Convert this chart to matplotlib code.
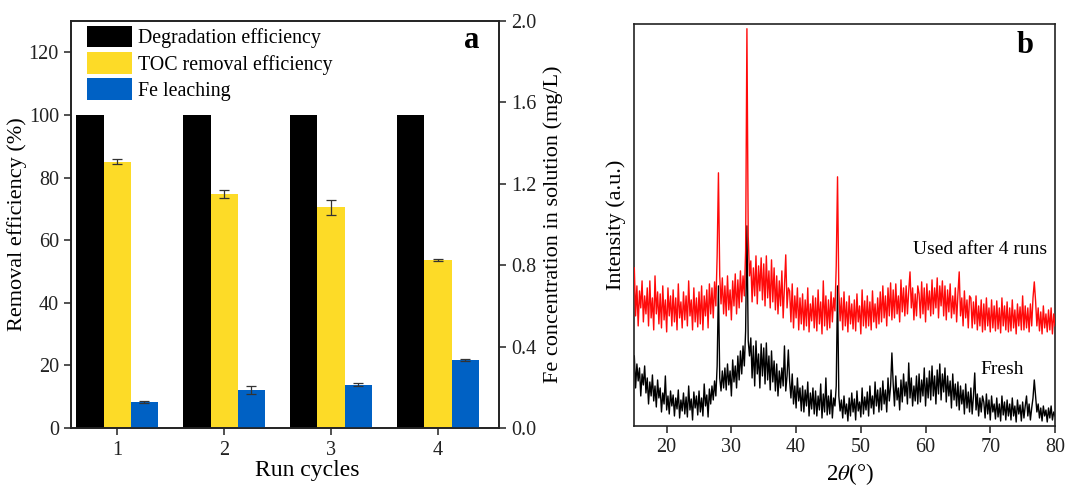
import numpy as np
import matplotlib
matplotlib.use("Agg")
import matplotlib.pyplot as plt
from matplotlib.patches import Patch

plt.rcParams['font.family'] = ['Liberation Serif', 'DejaVu Serif']
plt.rcParams['mathtext.fontset'] = 'stix'

# ---------------- Panel a data ----------------
cycles = [1, 2, 3, 4]
cycle_labels = ['1', '2', '3', '4']
degradation = [100, 100, 100, 100]
toc_removal = [85.0, 74.8, 70.5, 53.7]
toc_err = [0.8, 1.2, 2.4, 0.4]
fe_leaching = [0.128, 0.185, 0.212, 0.334]   # mg/L
fe_err = [0.006, 0.020, 0.008, 0.005]
left_ticks = [0, 20, 40, 60, 80, 100, 120]
right_ticks = [0.0, 0.4, 0.8, 1.2, 1.6, 2.0]

# ---------------- Panel b data (XRD, a.u.) ----------------
two_theta = np.round(np.arange(15.0, 80.0001, 0.2), 1)
fresh = [
    70, 38, 62, 45, 58, 30, 52, 41, 60, 33,
    48, 22, 44, 30, 51, 25, 40, 19, 46, 28,
    38, 14, 33, 22, 50, 16, 30, 12, 35, 20,
    31, 10, 28, 17, 36, 8, 26, 15, 33, 12,
    29, 9, 40, 16, 27, 6, 34, 18, 30, 11,
    35, 14, 28, 10, 42, 20, 31, 9, 37, 22,
    40, 26, 45, 30, 60, 140, 48, 35, 55, 38,
    58, 36, 62, 41, 55, 30, 66, 44, 60, 38,
    70, 46, 75, 52, 80, 60, 95, 200, 85, 70,
    88, 48, 80, 40, 85, 52, 72, 38, 82, 50,
    78, 42, 83, 46, 70, 36, 75, 44, 65, 35,
    62, 30, 55, 38, 58, 40, 80, 35, 50, 76,
    45, 28, 52, 22, 40, 18, 48, 25, 38, 15,
    40, 14, 36, 20, 44, 10, 33, 17, 38, 12,
    35, 10, 30, 16, 42, 8, 32, 14, 48, 11,
    30, 12, 36, 8, 28, 20, 40, 140, 30, 15,
    26, 8, 30, 12, 22, 5, 28, 10, 33, 14,
    27, 6, 35, 15, 24, 9, 38, 12, 29, 16,
    34, 10, 40, 18, 30, 12, 44, 20, 36, 14,
    38, 16, 45, 22, 36, 14, 48, 25, 40, 73,
    42, 20, 50, 26, 38, 16, 46, 24, 52, 30,
    44, 22, 63, 28, 48, 20, 40, 25, 50, 22,
    52, 24, 46, 30, 58, 20, 48, 28, 55, 26,
    60, 30, 50, 22, 56, 32, 62, 26, 52, 34,
    58, 24, 50, 30, 45, 18, 52, 26, 42, 20,
    44, 16, 40, 22, 36, 12, 42, 18, 34, 14,
    38, 12, 30, 53, 16, 32, 10, 28, 14, 30,
    24, 8, 32, 12, 26, 6, 30, 14, 22, 7,
    28, 9, 22, 5, 30, 11, 24, 6, 26, 10,
    22, 6, 28, 10, 20, 4, 26, 12, 21, 5,
    24, 8, 20, 30, 10, 22, 6, 18, 28, 46,
    30, 14, 22, 8, 18, 5, 20, 10, 16, 4,
    18, 8, 20, 6, 14, 10,
]
used = [
    158, 110, 140, 100, 135, 118, 145, 104, 130, 112,
    138, 100, 145, 108, 128, 96, 150, 112, 134, 102,
    132, 98, 140, 106, 126, 94, 138, 110, 130, 100,
    136, 104, 128, 96, 142, 108, 124, 98, 134, 106,
    130, 100, 145, 110, 126, 96, 138, 104, 128, 99,
    134, 102, 140, 96, 130, 110, 136, 98, 142, 112,
    138, 108, 144, 120, 170, 253, 150, 122, 148, 112,
    140, 110, 150, 116, 136, 106, 145, 120, 152, 112,
    146, 118, 155, 124, 150, 130, 175, 397, 190, 150,
    165, 124, 158, 130, 170, 122, 160, 135, 168, 126,
    162, 120, 170, 128, 155, 118, 166, 124, 158, 116,
    150, 112, 145, 120, 155, 108, 140, 171, 118, 138,
    135, 104, 142, 98, 130, 108, 138, 96, 128, 102,
    132, 96, 126, 100, 138, 94, 122, 105, 130, 98,
    128, 95, 136, 102, 124, 92, 145, 100, 130, 96,
    126, 98, 134, 104, 128, 115, 160, 249, 135, 105,
    128, 96, 134, 100, 124, 94, 130, 102, 122, 97,
    126, 95, 132, 104, 120, 92, 136, 100, 125, 98,
    130, 100, 124, 96, 135, 104, 122, 98, 128, 102,
    134, 104, 140, 108, 130, 100, 138, 110, 143, 106,
    136, 108, 142, 112, 130, 104, 146, 114, 138, 110,
    140, 112, 135, 154, 118, 138, 106, 132, 110, 140,
    132, 108, 144, 112, 138, 104, 142, 116, 135, 110,
    146, 112, 138, 118, 148, 108, 140, 120, 145, 110,
    140, 106, 136, 114, 142, 108, 130, 112, 138, 104,
    132, 154, 110, 128, 100, 135, 108, 126, 98, 130,
    128, 98, 124, 102, 130, 96, 120, 100, 126, 94,
    122, 96, 128, 100, 118, 94, 126, 98, 120, 95,
    125, 97, 118, 93, 128, 100, 120, 96, 124, 94,
    118, 95, 126, 98, 116, 92, 122, 100, 119, 96,
    130, 96, 120, 98, 118, 94, 122, 100, 128, 144,
    125, 100, 118, 95, 114, 92, 120, 98, 112, 94,
    116, 96, 118, 92, 112, 100,
]
xrd_ticks = [20, 30, 40, 50, 60, 70, 80]

# ---------------- Figure ----------------
W, H = 1065, 486
fig = plt.figure(figsize=(W / 100, H / 100), dpi=100)

black = '#000000'
yellow = '#FDDB27'
blue = '#0061C4'
tick_fs = 14.5
label_fs = 17

axa = fig.add_axes([70.7 / W, (H - 428) / H, (499 - 70.7) / W, (428 - 21) / H])
axr = axa.twinx()

x = np.array(cycles, dtype=float)
bw = 0.255
axa.bar(x - bw, degradation, bw, color=black, zorder=2)
axa.bar(x, toc_removal, bw, color=yellow, zorder=2,
        yerr=toc_err, error_kw=dict(ecolor='#333333', elinewidth=0.9, capsize=3.5, capthick=0.9))
axr.bar(x + bw, fe_leaching, bw, color=blue, zorder=2,
        yerr=fe_err, error_kw=dict(ecolor='#333333', elinewidth=0.9, capsize=3.5, capthick=0.9))

axa.set_xlim(0.565, 4.57)
axa.set_ylim(0, 130)
axr.set_ylim(0, 2.0)
axa.set_xticks(cycles)
axa.set_xticklabels(cycle_labels)
axa.set_yticks(left_ticks)
axr.set_yticks(right_ticks)
axr.set_yticklabels([f'{v:.1f}' for v in right_ticks])

for ax in (axa, axr):
    for s in ax.spines.values():
        s.set_linewidth(1.2)
        s.set_color('#222222')
    ax.tick_params(direction='out', length=5, width=1.1, labelsize=tick_fs, colors='#222222')
axa.tick_params(axis='x', pad=4)

axa.set_xlabel('Run cycles', fontsize=label_fs, labelpad=1)
axa.xaxis.set_label_coords(0.552, -0.078)
axa.set_ylabel('Removal efficiency (%)', fontsize=16, labelpad=1)
axr.set_ylabel('Fe concentration in solution (mg/L)', fontsize=16, labelpad=5)

handles = [Patch(facecolor=black, edgecolor='none'),
           Patch(facecolor=yellow, edgecolor='none'),
           Patch(facecolor=blue, edgecolor='none')]
labels = ['Degradation efficiency', 'TOC removal efficiency', 'Fe leaching']
axa.legend(handles, labels, loc='upper left', bbox_to_anchor=(0.01, 1.018),
           frameon=False, fontsize=14.3, handlelength=2.25, handleheight=1.3,
           handletextpad=0.3, labelspacing=0.2, borderaxespad=0.2)
axa.text(0.937, 0.953, 'a', transform=axa.transAxes, fontsize=22, fontweight='bold',
         ha='center', va='center')

# ---------------- Panel b ----------------
axb = fig.add_axes([634.3 / W, (H - 426) / H, (1055 - 634.3) / W, (426 - 23.7) / H])
axb.plot(two_theta, fresh, color='black', lw=1.0, zorder=2)
axb.plot(two_theta, used, color='#FF0A0A', lw=1.0, zorder=3)
axb.set_xlim(15, 80)
axb.set_ylim(0, 402)
axb.set_xticks(xrd_ticks)
axb.set_yticks([])
for s in axb.spines.values():
    s.set_linewidth(1.2)
    s.set_color('#222222')
axb.tick_params(direction='out', length=5, width=1.1, labelsize=tick_fs, colors='#222222')
axb.set_xlabel(r'2$\it{\theta}$(°)', fontsize=16.5, labelpad=2)
axb.xaxis.set_label_coords(0.513, -0.086)
axb.set_ylabel('Intensity (a.u.)', fontsize=16, labelpad=6)
axb.text(68.4, 176, 'Used after 4 runs', fontsize=14, ha='center', va='center')
axb.text(71.9, 56, 'Fresh', fontsize=14, ha='center', va='center')
axb.text(0.929, 0.947, 'b', transform=axb.transAxes, fontsize=22, fontweight='bold',
         ha='center', va='center')

fig.savefig('out.png', dpi=100)
